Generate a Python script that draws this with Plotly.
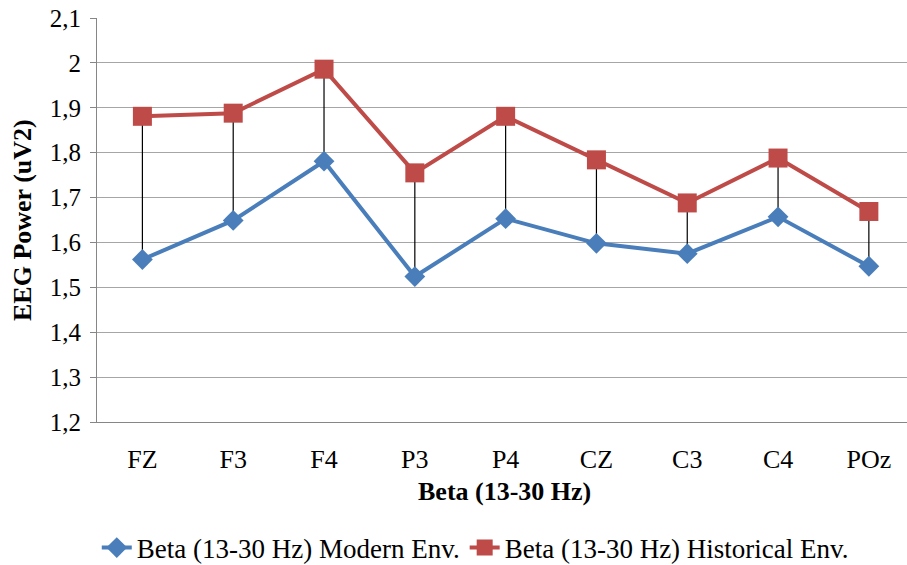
import plotly.graph_objects as go

# EEG beta-band power per electrode site
sites = ["FZ", "F3", "F4", "P3", "P4", "CZ", "C3", "C4", "POz"]
modern_env = [1.562, 1.649, 1.781, 1.524, 1.653, 1.598, 1.575, 1.657, 1.547]
historical_env = [1.881, 1.888, 1.986, 1.755, 1.881, 1.784, 1.688, 1.788, 1.669]
y_ticks = [1.2, 1.3, 1.4, 1.5, 1.6, 1.7, 1.8, 1.9, 2.0, 2.1]

BLUE = "#4A7EBB"
RED = "#BE4B48"
FONT = "Liberation Serif, Times New Roman, serif"

# High-low connector lines between the two series at each site
hl_x, hl_y = [], []
for s, lo, hi in zip(sites, modern_env, historical_env):
    hl_x += [s, s, None]
    hl_y += [lo, hi, None]

fig = go.Figure()
fig.add_trace(go.Scatter(
    x=hl_x, y=hl_y, mode="lines",
    line=dict(color="black", width=1.2),
    showlegend=False, hoverinfo="skip",
))
fig.add_trace(go.Scatter(
    x=sites, y=modern_env, mode="lines+markers",
    name="Beta (13-30 Hz) Modern Env.",
    line=dict(color=BLUE, width=4),
    marker=dict(symbol="diamond", size=16, color=BLUE),
))
fig.add_trace(go.Scatter(
    x=sites, y=historical_env, mode="lines+markers",
    name="Beta (13-30 Hz) Historical Env.",
    line=dict(color=RED, width=4),
    marker=dict(symbol="square", size=19, color=RED),
))

fig.update_layout(
    width=907, height=565,
    margin=dict(l=97, r=0, t=18, b=143, autoexpand=False),
    paper_bgcolor="white", plot_bgcolor="white",
    separators=", ",
    font=dict(family=FONT, size=25, color="black"),
    showlegend=True,
    legend=dict(
        orientation="h", x=0.467, xanchor="center", y=-0.312, yanchor="middle",
        font=dict(family=FONT, size=27), tracegroupgap=0,
    ),
    annotations=[
        dict(text="<b>Beta (13-30 Hz)</b>", xref="paper", yref="paper",
             x=(505 - 97) / 810, y=-0.173, xanchor="center", yanchor="middle",
             showarrow=False, font=dict(family=FONT, size=26)),
        dict(text="<b>EEG Power (uV2)</b>", xref="paper", yref="paper",
             x=-75 / 810, y=0.5, xanchor="center", yanchor="middle",
             textangle=-90, showarrow=False, font=dict(family=FONT, size=26)),
    ],
)
fig.update_xaxes(
    type="category", range=[-0.5, 8.42], automargin=False,
    showgrid=False, showline=True, linecolor="#868686", linewidth=1,
    ticks="", ticklabelstandoff=14, tickfont=dict(family=FONT, size=26),
)
fig.update_yaxes(
    range=[1.2, 2.1], tickvals=y_ticks, automargin=False,
    showgrid=True, gridcolor="#A6A6A6", gridwidth=1,
    showline=True, linecolor="#868686", linewidth=1,
    ticks="outside", ticklen=6, tickcolor="#868686", ticklabelstandoff=4,
    tickfont=dict(family=FONT, size=25), zeroline=False,
)

fig.write_html("out.html")
